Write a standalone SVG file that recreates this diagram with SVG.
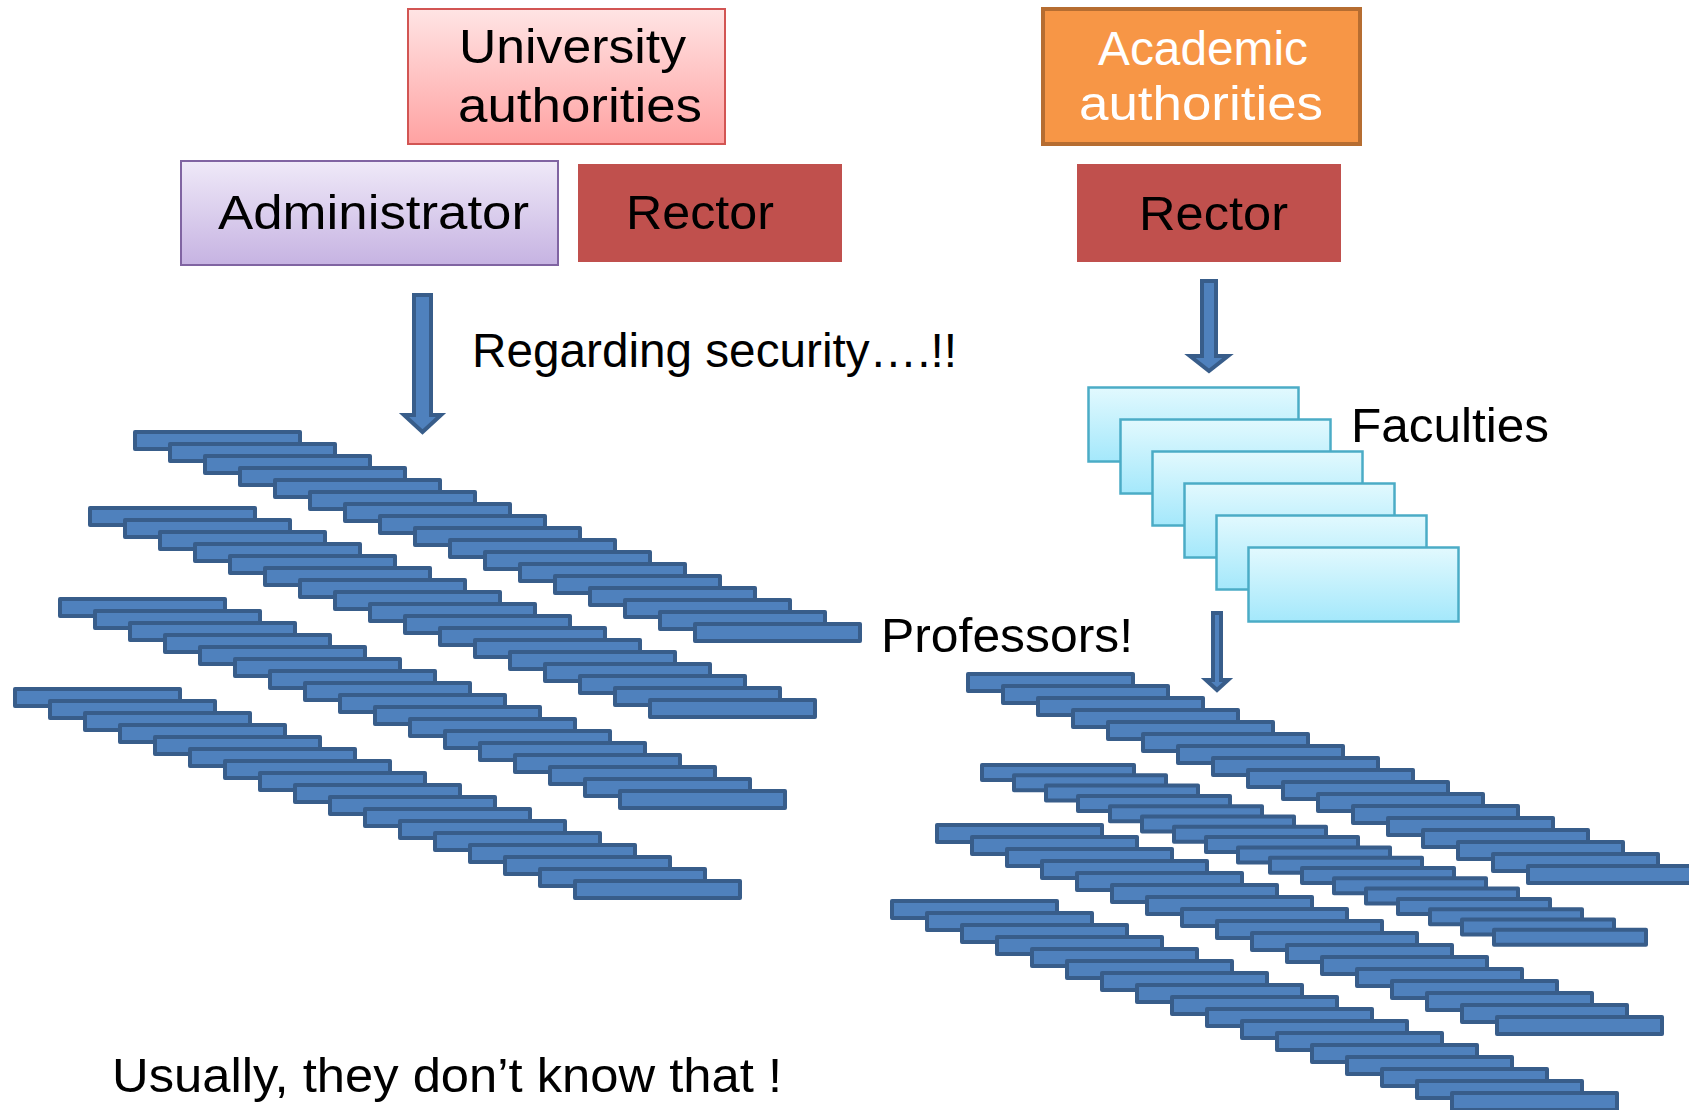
<svg xmlns="http://www.w3.org/2000/svg" xmlns:xlink="http://www.w3.org/1999/xlink" width="1689" height="1110" viewBox="0 0 1689 1110">
<style>
text{font-family:"Liberation Sans",Arial,sans-serif;font-size:48px;fill:#000}
.w{fill:#fff}
.bar{fill:#4F81BD;stroke:#385D8A;stroke-width:4;stroke-linejoin:round}
.arrow{fill:#4F81BD;stroke:#385D8A;stroke-width:4;stroke-linejoin:miter}
.fac{fill:url(#gCyan);stroke:#4BACC6;stroke-width:2.5}
</style>
<defs>
<linearGradient id="gPink" x1="0" y1="0" x2="0" y2="1"><stop offset="0" stop-color="#FFE4E4"/><stop offset="1" stop-color="#FFA2A2"/></linearGradient>
<linearGradient id="gPurple" x1="0" y1="0" x2="0" y2="1"><stop offset="0" stop-color="#EFE9F8"/><stop offset="1" stop-color="#C6B3E2"/></linearGradient>
<linearGradient id="gCyan" x1="0" y1="0" x2="0" y2="1"><stop offset="0" stop-color="#E2F9FE"/><stop offset="1" stop-color="#A4E8FB"/></linearGradient>
<rect id="bar" class="bar" width="165" height="17"/>
<rect id="barS" class="bar" width="152" height="15"/>
</defs>
<rect width="1689" height="1110" fill="#fff"/>

<g id="university-authorities">
<rect x="408" y="9" width="317" height="135" fill="url(#gPink)" stroke="#D25553" stroke-width="2"/>
<text x="459" y="63" textLength="227" lengthAdjust="spacingAndGlyphs">University</text>
<text x="458" y="122" textLength="244" lengthAdjust="spacingAndGlyphs">authorities</text>
</g>
<g id="administrator">
<rect x="181" y="161" width="377" height="104" fill="url(#gPurple)" stroke="#8064A2" stroke-width="2"/>
<text x="218" y="229" textLength="311" lengthAdjust="spacingAndGlyphs">Administrator</text>
</g>
<g id="rector-left">
<rect x="578" y="164" width="264" height="98" fill="#C0504D"/>
<text x="626" y="229" textLength="148" lengthAdjust="spacingAndGlyphs">Rector</text>
</g>
<g id="academic-authorities">
<rect x="1043" y="9" width="317" height="135" fill="#F79646" stroke="#B66D31" stroke-width="4"/>
<text class="w" x="1098" y="65" textLength="210" lengthAdjust="spacingAndGlyphs">Academic</text>
<text class="w" x="1079" y="120" textLength="244" lengthAdjust="spacingAndGlyphs">authorities</text>
</g>
<g id="rector-right">
<rect x="1077" y="164" width="264" height="98" fill="#C0504D"/>
<text x="1139" y="230" textLength="149" lengthAdjust="spacingAndGlyphs">Rector</text>
</g>

<g id="faculties">
<rect class="fac" x="1088.5" y="387.5" width="210" height="74"/>
<rect class="fac" x="1120.5" y="419.5" width="210" height="74"/>
<rect class="fac" x="1152.5" y="451.5" width="210" height="74"/>
<rect class="fac" x="1184.5" y="483.5" width="210" height="74"/>
<rect class="fac" x="1216.5" y="515.5" width="210" height="74"/>
<rect class="fac" x="1248.5" y="547.5" width="210" height="74"/>
<text x="1351" y="442" textLength="198" lengthAdjust="spacingAndGlyphs">Faculties</text>
</g>

<g id="connectors">
<polygon class="arrow" points="414,295 431,295 431,415 441,415 422.5,432 404,415 414,415"/>
<polygon class="arrow" points="1202,281 1216,281 1216,356 1228,356 1209,371 1190,356 1202,356"/>
<polygon class="arrow" points="1213,613 1221,613 1221,680 1228,680 1217,690 1206,680 1213,680"/>
</g>

<g id="labels">
<text x="472" y="367" textLength="485" lengthAdjust="spacingAndGlyphs">Regarding security….!!</text>
<text x="881" y="652" textLength="252" lengthAdjust="spacingAndGlyphs">Professors!</text>
<text x="112" y="1092" textLength="670" lengthAdjust="spacingAndGlyphs">Usually, they don’t know that !</text>
</g>

<g id="staff-stack-a">
<use xlink:href="#bar" x="135" y="432"/><use xlink:href="#bar" x="170" y="444"/><use xlink:href="#bar" x="205" y="456"/><use xlink:href="#bar" x="240" y="468"/><use xlink:href="#bar" x="275" y="480"/><use xlink:href="#bar" x="310" y="492"/><use xlink:href="#bar" x="345" y="504"/><use xlink:href="#bar" x="380" y="516"/><use xlink:href="#bar" x="415" y="528"/><use xlink:href="#bar" x="450" y="540"/><use xlink:href="#bar" x="485" y="552"/><use xlink:href="#bar" x="520" y="564"/><use xlink:href="#bar" x="555" y="576"/><use xlink:href="#bar" x="590" y="588"/><use xlink:href="#bar" x="625" y="600"/><use xlink:href="#bar" x="660" y="612"/><use xlink:href="#bar" x="695" y="624"/>
</g>
<g id="staff-stack-b">
<use xlink:href="#bar" x="90" y="508"/><use xlink:href="#bar" x="125" y="520"/><use xlink:href="#bar" x="160" y="532"/><use xlink:href="#bar" x="195" y="544"/><use xlink:href="#bar" x="230" y="556"/><use xlink:href="#bar" x="265" y="568"/><use xlink:href="#bar" x="300" y="580"/><use xlink:href="#bar" x="335" y="592"/><use xlink:href="#bar" x="370" y="604"/><use xlink:href="#bar" x="405" y="616"/><use xlink:href="#bar" x="440" y="628"/><use xlink:href="#bar" x="475" y="640"/><use xlink:href="#bar" x="510" y="652"/><use xlink:href="#bar" x="545" y="664"/><use xlink:href="#bar" x="580" y="676"/><use xlink:href="#bar" x="615" y="688"/><use xlink:href="#bar" x="650" y="700"/>
</g>
<g id="staff-stack-c">
<use xlink:href="#bar" x="60" y="599"/><use xlink:href="#bar" x="95" y="611"/><use xlink:href="#bar" x="130" y="623"/><use xlink:href="#bar" x="165" y="635"/><use xlink:href="#bar" x="200" y="647"/><use xlink:href="#bar" x="235" y="659"/><use xlink:href="#bar" x="270" y="671"/><use xlink:href="#bar" x="305" y="683"/><use xlink:href="#bar" x="340" y="695"/><use xlink:href="#bar" x="375" y="707"/><use xlink:href="#bar" x="410" y="719"/><use xlink:href="#bar" x="445" y="731"/><use xlink:href="#bar" x="480" y="743"/><use xlink:href="#bar" x="515" y="755"/><use xlink:href="#bar" x="550" y="767"/><use xlink:href="#bar" x="585" y="779"/><use xlink:href="#bar" x="620" y="791"/>
</g>
<g id="staff-stack-d">
<use xlink:href="#bar" x="15" y="689"/><use xlink:href="#bar" x="50" y="701"/><use xlink:href="#bar" x="85" y="713"/><use xlink:href="#bar" x="120" y="725"/><use xlink:href="#bar" x="155" y="737"/><use xlink:href="#bar" x="190" y="749"/><use xlink:href="#bar" x="225" y="761"/><use xlink:href="#bar" x="260" y="773"/><use xlink:href="#bar" x="295" y="785"/><use xlink:href="#bar" x="330" y="797"/><use xlink:href="#bar" x="365" y="809"/><use xlink:href="#bar" x="400" y="821"/><use xlink:href="#bar" x="435" y="833"/><use xlink:href="#bar" x="470" y="845"/><use xlink:href="#bar" x="505" y="857"/><use xlink:href="#bar" x="540" y="869"/><use xlink:href="#bar" x="575" y="881"/>
</g>

<g id="professors-stack-e">
<use xlink:href="#bar" x="968" y="674"/><use xlink:href="#bar" x="1003" y="686"/><use xlink:href="#bar" x="1038" y="698"/><use xlink:href="#bar" x="1073" y="710"/><use xlink:href="#bar" x="1108" y="722"/><use xlink:href="#bar" x="1143" y="734"/><use xlink:href="#bar" x="1178" y="746"/><use xlink:href="#bar" x="1213" y="758"/><use xlink:href="#bar" x="1248" y="770"/><use xlink:href="#bar" x="1283" y="782"/><use xlink:href="#bar" x="1318" y="794"/><use xlink:href="#bar" x="1353" y="806"/><use xlink:href="#bar" x="1388" y="818"/><use xlink:href="#bar" x="1423" y="830"/><use xlink:href="#bar" x="1458" y="842"/><use xlink:href="#bar" x="1493" y="854"/><use xlink:href="#bar" x="1528" y="866"/>
</g>
<g id="professors-stack-f">
<use xlink:href="#barS" x="982" y="765"/><use xlink:href="#barS" x="1014" y="775.3"/><use xlink:href="#barS" x="1046" y="785.6"/><use xlink:href="#barS" x="1078" y="795.9"/><use xlink:href="#barS" x="1110" y="806.2"/><use xlink:href="#barS" x="1142" y="816.5"/><use xlink:href="#barS" x="1174" y="826.8"/><use xlink:href="#barS" x="1206" y="837.1"/><use xlink:href="#barS" x="1238" y="847.4"/><use xlink:href="#barS" x="1270" y="857.7"/><use xlink:href="#barS" x="1302" y="868"/><use xlink:href="#barS" x="1334" y="878.3"/><use xlink:href="#barS" x="1366" y="888.6"/><use xlink:href="#barS" x="1398" y="898.9"/><use xlink:href="#barS" x="1430" y="909.2"/><use xlink:href="#barS" x="1462" y="919.5"/><use xlink:href="#barS" x="1494" y="929.8"/>
</g>
<g id="professors-stack-g">
<use xlink:href="#bar" x="937" y="825"/><use xlink:href="#bar" x="972" y="837"/><use xlink:href="#bar" x="1007" y="849"/><use xlink:href="#bar" x="1042" y="861"/><use xlink:href="#bar" x="1077" y="873"/><use xlink:href="#bar" x="1112" y="885"/><use xlink:href="#bar" x="1147" y="897"/><use xlink:href="#bar" x="1182" y="909"/><use xlink:href="#bar" x="1217" y="921"/><use xlink:href="#bar" x="1252" y="933"/><use xlink:href="#bar" x="1287" y="945"/><use xlink:href="#bar" x="1322" y="957"/><use xlink:href="#bar" x="1357" y="969"/><use xlink:href="#bar" x="1392" y="981"/><use xlink:href="#bar" x="1427" y="993"/><use xlink:href="#bar" x="1462" y="1005"/><use xlink:href="#bar" x="1497" y="1017"/>
</g>
<g id="professors-stack-h">
<use xlink:href="#bar" x="892" y="901"/><use xlink:href="#bar" x="927" y="913"/><use xlink:href="#bar" x="962" y="925"/><use xlink:href="#bar" x="997" y="937"/><use xlink:href="#bar" x="1032" y="949"/><use xlink:href="#bar" x="1067" y="961"/><use xlink:href="#bar" x="1102" y="973"/><use xlink:href="#bar" x="1137" y="985"/><use xlink:href="#bar" x="1172" y="997"/><use xlink:href="#bar" x="1207" y="1009"/><use xlink:href="#bar" x="1242" y="1021"/><use xlink:href="#bar" x="1277" y="1033"/><use xlink:href="#bar" x="1312" y="1045"/><use xlink:href="#bar" x="1347" y="1057"/><use xlink:href="#bar" x="1382" y="1069"/><use xlink:href="#bar" x="1417" y="1081"/><use xlink:href="#bar" x="1452" y="1093"/>
</g>
</svg>
